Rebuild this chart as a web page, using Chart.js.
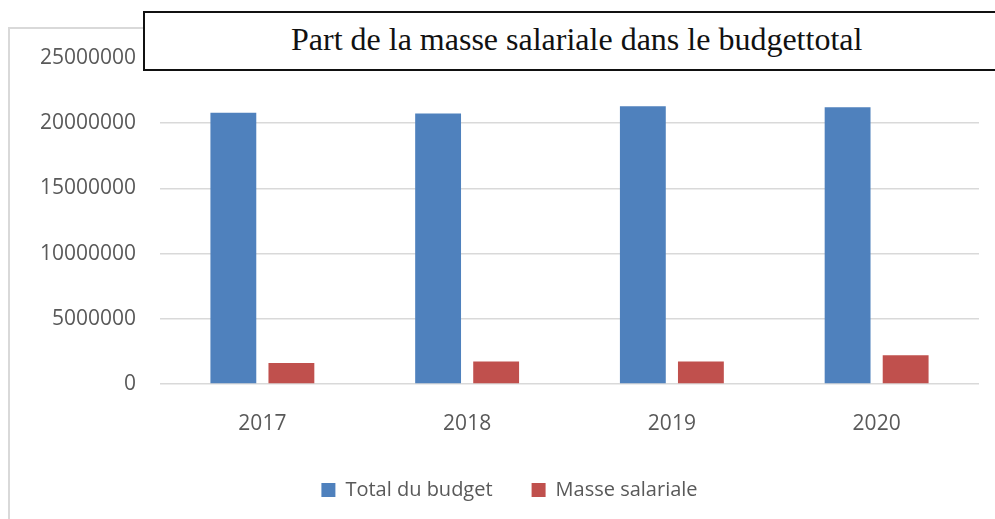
<!DOCTYPE html>
<html>
<head>
<meta charset="utf-8">
<script src="https://cdn.jsdelivr.net/npm/chart.js@4"></script>
<style>
  body { margin: 0; background: #fff; }
  #wrap { position: relative; width: 995px; height: 519px; overflow: hidden; }
  #titre {
    position: absolute; left: 143px; top: 11px; width: 870px; height: 56px;
    border: 2px solid #111; background: #fff; box-sizing: content-box;
    font-family: "Liberation Serif", "Times New Roman", serif; font-size: 32px; color: #111;
    line-height: 53px; padding-left: 146px; white-space: nowrap;
  }
</style>
</head>
<body>
<div id="wrap">
  <canvas id="graph_masse" width="995" height="519"></canvas>
  <div id="titre">Part de la masse salariale dans le budgettotal</div>
</div>
<script>
/*------------------------------*/
/*   MASSE SALARIALE / BUDGET   */
/*------------------------------*/
var annees = ['2017', '2018', '2019', '2020']
var total_budget = [20810000, 20740000, 21300000, 21220000]
var masse_salariale = [1610000, 1720000, 1720000, 2200000]
var ticks_y = [0, 5000000, 10000000, 15000000, 20000000, 25000000]

var gris_texte = '#595959'

// cadre gris clair autour du graphique (seuls le haut et la gauche sont visibles)
var cadre = {
  id: 'cadre',
  beforeDraw: function (chart) {
    var c = chart.ctx
    c.save()
    c.fillStyle = '#fff'
    c.fillRect(0, 0, chart.width, chart.height)
    c.strokeStyle = '#d9d9d9'
    c.lineWidth = 2
    c.strokeRect(9, 28, 1100, 700)
    c.restore()
  }
}

var ctx_masse = document.getElementById('graph_masse').getContext('2d')

var data_masse = {
  labels: annees,
  datasets: [
    {
      label: 'Total du budget',
      data: total_budget,
      backgroundColor: '#4f81bd',
      borderColor: '#4f81bd',
      borderWidth: 0
    },
    {
      label: 'Masse salariale',
      data: masse_salariale,
      backgroundColor: '#c0504d',
      borderColor: '#c0504d',
      borderWidth: 0
    }
  ]
}

var config_masse = {
  type: 'bar',
  data: data_masse,
  plugins: [cadre],
  options: {
    responsive: false,
    animation: false,
    layout: { padding: { left: 40, right: 16, top: 58, bottom: 9 } },
    categoryPercentage: 0.567,
    barPercentage: 0.79,
    scales: {
      x: {
        grid: { display: false, drawTicks: false },
        border: { display: false },
        ticks: { color: gris_texte, font: { family: 'Open Sans', size: 21 }, padding: 27 },
        afterFit: function (axis) { axis.height = 57 }
      },
      y: {
        min: 0,
        max: 25000000,
        afterBuildTicks: function (axis) {
          axis.ticks = ticks_y.map(function (v) { return { value: v } })
        },
        afterFit: function (axis) { axis.width = 120 },
        grid: { color: '#d9d9d9', lineWidth: 1.5, drawTicks: false },
        border: { display: false },
        ticks: {
          color: gris_texte,
          font: { family: 'Open Sans', size: 21 },
          padding: 24,
          callback: function (v) { return String(v) }
        }
      }
    },
    plugins: {
      title: { display: false },
      tooltip: { enabled: false },
      legend: {
        position: 'bottom',
        labels: {
          color: gris_texte,
          font: { family: 'Open Sans', size: 20 },
          boxWidth: 14,
          boxHeight: 14,
          padding: 39
        }
      }
    }
  }
}

var graph_masse = new Chart(ctx_masse, config_masse)
</script>
</body>
</html>
